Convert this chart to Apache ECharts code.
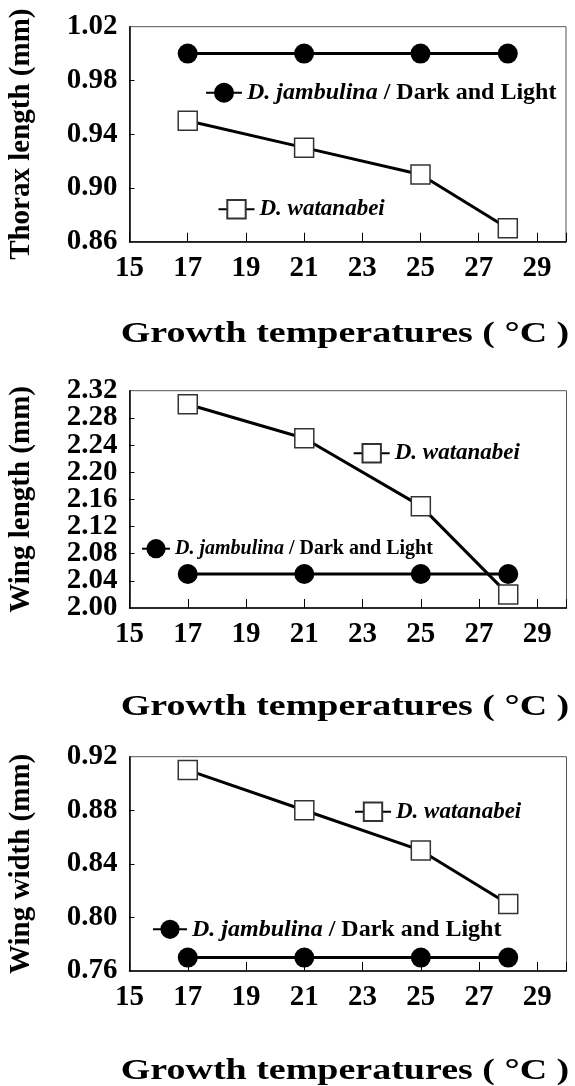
<!DOCTYPE html>
<html>
<head>
<meta charset="utf-8">
<script src="https://cdn.jsdelivr.net/npm/echarts@6/dist/echarts.min.js"></script>
<style>
html,body{margin:0;padding:0;background:#fff;}
#chart{width:575px;height:1086px;}
</style>
</head>
<body>
<div id="chart"></div>
<script>
// ---- data ----
const temps = [17, 21, 25, 28];
const xTicks = [15, 17, 19, 21, 23, 25, 27, 29];
const xMax = 30;

const thoraxJambulina = [1.00, 1.00, 1.00, 1.00];
const thoraxWatanabei = [0.95, 0.93, 0.91, 0.87];
const thoraxTicks = [0.86, 0.90, 0.94, 0.98, 1.02];

const wingLenJambulina = [2.05, 2.05, 2.05, 2.05];
const wingLenWatanabei = [2.30, 2.25, 2.15, 2.02];
const wingLenTicks = [2.00, 2.04, 2.08, 2.12, 2.16, 2.20, 2.24, 2.28, 2.32];

const wingWidJambulina = [0.77, 0.77, 0.77, 0.77];
const wingWidWatanabei = [0.91, 0.88, 0.85, 0.81];
const wingWidTicks = [0.76, 0.80, 0.84, 0.88, 0.92];

const yTitles = ['Thorax length (mm)', 'Wing length (mm)', 'Wing width (mm)'];
const xTitle = 'Growth temperatures ( °C )';
const nameJ = 'D. jambulina / Dark and Light';
const nameW = 'D. watanabei';

// ---- layout ----
const FONT = '"Liberation Serif", "Times New Roman", serif';
const grids = [
  {left: 129.5, top: 26.7, width: 436.5, height: 215},
  {left: 129.5, top: 390.7, width: 437, height: 217.3},
  {left: 129.5, top: 756.7, width: 437, height: 214.3}
];
const titleY = [335, 708, 1072];
const yTicksList = [thoraxTicks, wingLenTicks, wingWidTicks];
const jData = [thoraxJambulina, wingLenJambulina, wingWidJambulina];
const wData = [thoraxWatanabei, wingLenWatanabei, wingWidWatanabei];

const pairs = arr => temps.map((t, i) => [t, arr[i]]);

const xAxes = grids.map((g, i) => ({
  type: 'value', gridIndex: i, min: xTicks[0], max: xMax,
  interval: xTicks[1] - xTicks[0],
  axisLine: {show: true, lineStyle: {color: '#000', width: 1.5}},
  axisTick: {show: true, inside: true, length: 9, lineStyle: {color: '#000', width: 1}},
  splitLine: {show: false},
  axisLabel: {
    margin: 12, color: '#000', fontFamily: FONT, fontWeight: 'bold', fontSize: 29,
    showMinLabel: true,
    formatter: v => (xTicks.indexOf(v) >= 0 ? String(v) : '')
  }
}));

const labelStyle = {margin: 12, color: '#000', fontFamily: FONT, fontWeight: 'bold', fontSize: 29};

// main y axes: inner tick labels (min/max drawn by the companion axes below)
const yAxesMain = grids.map((g, i) => {
  const t = yTicksList[i];
  return {
    type: 'value', gridIndex: i, position: 'left', min: t[0], max: t[t.length - 1],
    interval: +(t[1] - t[0]).toFixed(2),
    name: yTitles[i], nameLocation: 'middle', nameGap: 93, nameRotate: 90,
    nameTextStyle: {color: '#000', fontFamily: FONT, fontWeight: 'bold', fontSize: 29},
    axisLine: {show: true, lineStyle: {color: '#000', width: 1.5}},
    axisTick: {show: true, inside: true, length: 5, lineStyle: {color: '#000', width: 1}},
    splitLine: {show: false},
    axisLabel: Object.assign({
      showMinLabel: false, showMaxLabel: false,
      formatter: v => v.toFixed(2)
    }, labelStyle)
  };
});
// companion y axes: only the end labels
const yAxesEnds = grids.map((g, i) => {
  const t = yTicksList[i];
  const lo = t[0], hi = t[t.length - 1];
  return {
    type: 'value', gridIndex: i, position: 'left', offset: 0, min: lo, max: hi,
    interval: +(t[1] - t[0]).toFixed(2),
    axisLine: {show: false}, axisTick: {show: false}, splitLine: {show: false},
    axisLabel: Object.assign({
      showMinLabel: true, showMaxLabel: true,
      formatter: v => (Math.abs(v - lo) < 1e-6 || Math.abs(v - hi) < 1e-6) ? v.toFixed(2) : ''
    }, labelStyle)
  };
});

const series = [];
grids.forEach((g, i) => {
  series.push({
    name: nameJ, type: 'line', xAxisIndex: i, yAxisIndex: i,
    data: pairs(jData[i]), symbol: 'circle', symbolSize: 20,
    lineStyle: {color: '#000', width: 3},
    itemStyle: {color: '#000', borderColor: '#000', borderWidth: 0},
    z: 3, silent: true
  });
  series.push({
    name: nameW, type: 'line', xAxisIndex: i, yAxisIndex: i,
    data: pairs(wData[i]), symbol: 'rect', symbolSize: 19,
    lineStyle: {color: '#000', width: 3},
    itemStyle: {color: '#fff', borderColor: '#333', borderWidth: 1.5},
    z: 4, silent: true
  });
});

function richText(size) {
  return {
    color: '#000', fontFamily: FONT, fontWeight: 'bold', fontSize: size,
    rich: {
      i: {fontFamily: FONT, fontWeight: 'bold', fontStyle: 'italic', fontSize: size, color: '#000'},
      n: {fontFamily: FONT, fontWeight: 'bold', fontSize: size, color: '#000'}
    }
  };
}
const legendFmt = name => name === nameJ
  ? '{i|D. jambulina} {n|/ Dark and Light}'
  : '{i|D. watanabei}';

const legendPos = [
  {name: nameJ, left: 205, top: 80.8, w: 36, h: 25, fs: 24},
  {name: nameW, left: 217.5, top: 197.8, w: 36, h: 23, fs: 23},
  {name: nameW, left: 352.7, top: 441.8, w: 36, h: 23, fs: 23},
  {name: nameJ, left: 141, top: 538.7, w: 28, h: 24, fs: 20},
  {name: nameW, left: 354, top: 800.2, w: 36, h: 23, fs: 23},
  {name: nameJ, left: 152, top: 917.3, w: 34, h: 24, fs: 24}
];
const legends = legendPos.map(p => ({
  data: [p.name], left: p.left, top: p.top, padding: 0,
  itemWidth: p.w, itemHeight: p.h, selectedMode: false,
  formatter: legendFmt, textStyle: richText(p.fs)
}));

const graphics = titleY.map(y => ({
  type: 'text', x: 345, y: y, scaleX: 1.31, scaleY: 1,
  style: {
    text: xTitle, fill: '#000',
    font: 'bold 29px ' + FONT,
    align: 'center', verticalAlign: 'middle'
  }
}));

const chart = echarts.init(document.getElementById('chart'), null, {renderer: 'canvas'});
chart.setOption({
  animation: false,
  backgroundColor: '#fff',
  grid: grids.map(g => Object.assign({
    show: true, borderColor: '#555', borderWidth: 1, backgroundColor: 'transparent',
    containLabel: false, outerBoundsMode: 'none'
  }, g)),
  xAxis: xAxes,
  yAxis: yAxesMain.concat(yAxesEnds),
  legend: legends,
  graphic: graphics,
  series: series
});
</script>
</body>
</html>
